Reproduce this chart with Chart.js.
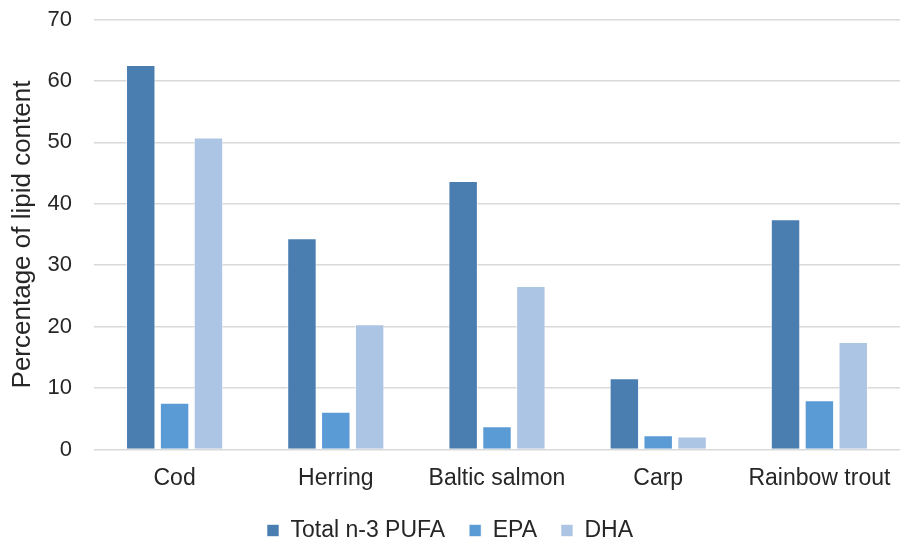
<!DOCTYPE html>
<html>
<head>
<meta charset="utf-8">
<script src="https://cdn.jsdelivr.net/npm/chart.js@4"></script>
<style>
  html, body { margin: 0; padding: 0; background: #fff; }
  #wrap { width: 900px; height: 542px; }
</style>
</head>
<body>
<div id="wrap"><canvas id="fishChart"></canvas></div>
<script>
// fish species and their n-3 fatty acid shares (% of lipid)
const species = ['Cod', 'Herring', 'Baltic salmon', 'Carp', 'Rainbow trout'];
const totalN3 = [62.6, 34.4, 43.7, 11.6, 37.5];
const epaVals = [7.6, 6.15, 3.8, 2.3, 8.0];
const dhaVals = [50.8, 20.4, 26.6, 2.1, 17.5];
const yTicks = [0, 10, 20, 30, 40, 50, 60, 70];

const fontFam = '"Liberation Sans", Arial, sans-serif';
const textCol = '#262626';

function series(label, data, color) {
  return {
    label,
    data,
    backgroundColor: color,
    borderColor: 'rgba(255,255,255,0.6)',
    borderWidth: 1,
    categoryPercentage: 0.63,
    barPercentage: 0.87
  };
}

const ctx = document.getElementById('fishChart').getContext('2d');
new Chart(ctx, {
  type: 'bar',
  data: {
    labels: species,
    datasets: [
      series('Total n-3 PUFA', totalN3, '#4a7eb0'),
      series('EPA', epaVals, '#5b9bd5'),
      series('DHA', dhaVals, '#adc5e4')
    ]
  },
  options: {
    responsive: true,
    maintainAspectRatio: false,
    animation: false,
    layout: { padding: { top: 19.5, right: 0, bottom: -10, left: 0 } },
    plugins: {
      legend: {
        position: 'bottom',
        labels: {
          color: textCol,
          font: { family: fontFam, size: 23 },
          boxWidth: 12,
          boxHeight: 12,
          padding: 24
        }
      },
      tooltip: { enabled: false }
    },
    scales: {
      x: {
        grid: { display: false, drawTicks: false },
        border: { display: false },
        ticks: { color: textCol, font: { family: fontFam, size: 23 }, padding: 15 },
        // fixed axis height so the plot bottom sits where the original has it
        afterFit: s => { s.paddingRight = 0; s.height = 45.5; }
      },
      y: {
        min: 0,
        max: 70,
        afterBuildTicks: axis => { axis.ticks = yTicks.map(v => ({ value: v })); },
        grid: { color: '#d9d9d9', lineWidth: 1.5, drawTicks: false },
        border: { display: false },
        ticks: { color: textCol, font: { family: fontFam, size: 22 }, padding: 22 },
        afterFit: s => { s.width = 94; s.paddingTop = 0; s.paddingBottom = 0; },
        title: {
          display: true,
          text: 'Percentage of lipid content',
          color: textCol,
          font: { family: fontFam, size: 26 },
          padding: { top: 7, bottom: 0 }
        }
      }
    }
  }
});
</script>
</body>
</html>
